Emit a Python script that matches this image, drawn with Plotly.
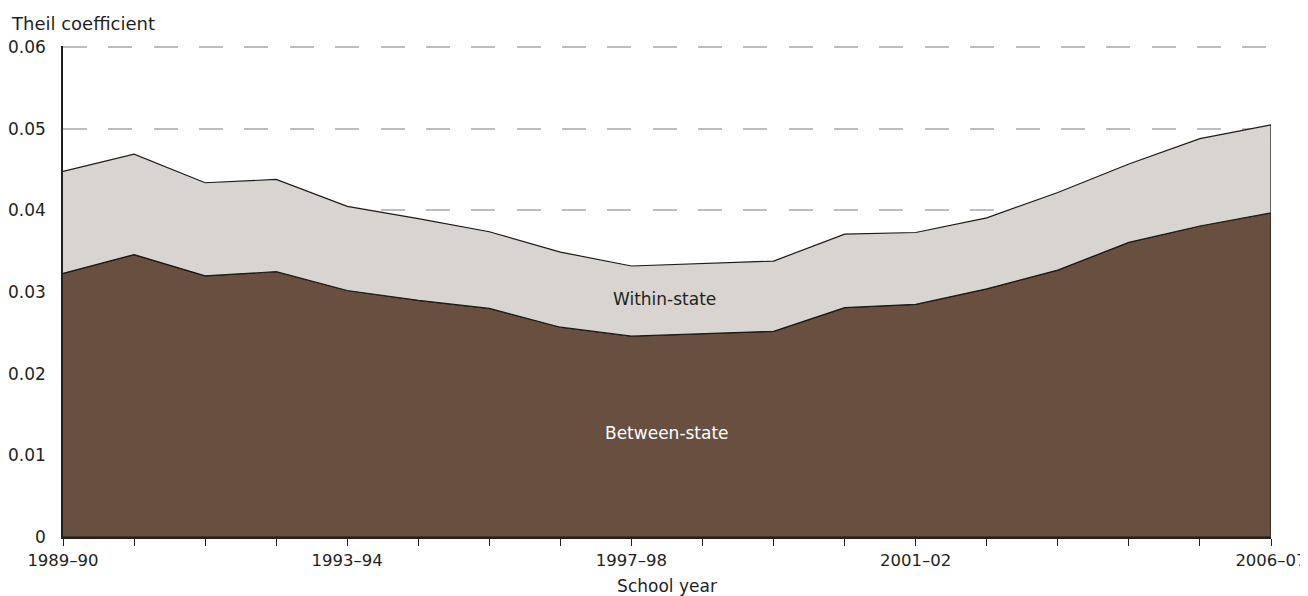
import plotly.graph_objects as go

years = ["1989–90", "1990–91", "1991–92", "1992–93", "1993–94", "1994–95",
         "1995–96", "1996–97", "1997–98", "1998–99", "1999–2000", "2000–01",
         "2001–02", "2002–03", "2003–04", "2004–05", "2005–06", "2006–07"]
between_state = [0.0323, 0.0346, 0.0320, 0.0325, 0.0302, 0.0290, 0.0280, 0.0257, 0.0246,
                 0.0249, 0.0252, 0.0281, 0.0285, 0.0304, 0.0327, 0.0361, 0.0381, 0.0397]
within_state = [0.0125, 0.0123, 0.0114, 0.0113, 0.0103, 0.0100, 0.0094, 0.0092, 0.0086,
                0.0086, 0.0086, 0.0090, 0.0088, 0.0087, 0.0095, 0.0096, 0.0107, 0.0108]
labeled_years = ["1989–90", "1993–94", "1997–98", "2001–02", "2006–07"]
y_ticks = [0, 0.01, 0.02, 0.03, 0.04, 0.05, 0.06]
y_ticklabels = ["0", "0.01", "0.02", "0.03", "0.04", "0.05", "0.06"]

FONT = "DejaVu Sans"
xs = list(range(len(years)))
total = [b + w for b, w in zip(between_state, within_state)]
zeros = [0] * len(years)

fig = go.Figure()
fig.add_trace(go.Scatter(
    x=xs + xs[::-1], y=between_state + zeros[::-1], mode="lines", fill="toself",
    fillcolor="#684F40", line=dict(color="#1E1A16", width=1.2), hoverinfo="skip",
    showlegend=False))
fig.add_trace(go.Scatter(
    x=xs + xs[::-1], y=total + between_state[::-1], mode="lines", fill="toself",
    fillcolor="#D8D4D0", line=dict(color="#1E1A16", width=1.2), hoverinfo="skip",
    showlegend=False))

ticktext = [y if y in labeled_years else "" for y in years]

fig.update_layout(
    width=1300, height=588,
    margin=dict(l=55, r=37, t=38, b=59),
    plot_bgcolor="white", paper_bgcolor="white",
    font=dict(family=FONT, size=17, color="#231F1C"),
    xaxis=dict(range=[0, len(years) - 1], tickmode="array", tickvals=xs, ticktext=ticktext,
               ticks="outside", ticklen=7, tickcolor="#231F1C", tickwidth=1.2,
               showline=True, linecolor="#231F1C", linewidth=1.5, showgrid=False,
               zeroline=False, automargin=False,
               title=dict(text="School year", standoff=14, font=dict(size=17)),
               tickfont=dict(size=16.5)),
    yaxis=dict(range=[0, 0.06015], tickmode="array", tickvals=y_ticks, ticktext=y_ticklabels,
               ticks="", showline=True, linecolor="#231F1C", linewidth=1.5,
               showgrid=True, gridcolor="#BDBDBD", gridwidth=1.5, griddash="24px,21.36px",
               zeroline=False, automargin=False, tickfont=dict(size=17),
               ticklabelstandoff=12),
    annotations=[
        dict(text="Theil coefficient", xref="paper", yref="paper", x=-0.0445, y=1.0,
             xanchor="left", yanchor="bottom", yshift=10, showarrow=False,
             font=dict(size=18)),
        dict(text="Within-state", x=8.47, y=0.0292, showarrow=False,
             font=dict(size=17, color="#231F1C")),
        dict(text="Between-state", x=8.5, y=0.0128, showarrow=False,
             font=dict(size=17, color="white")),
    ],
)

fig.write_html("out.html")
